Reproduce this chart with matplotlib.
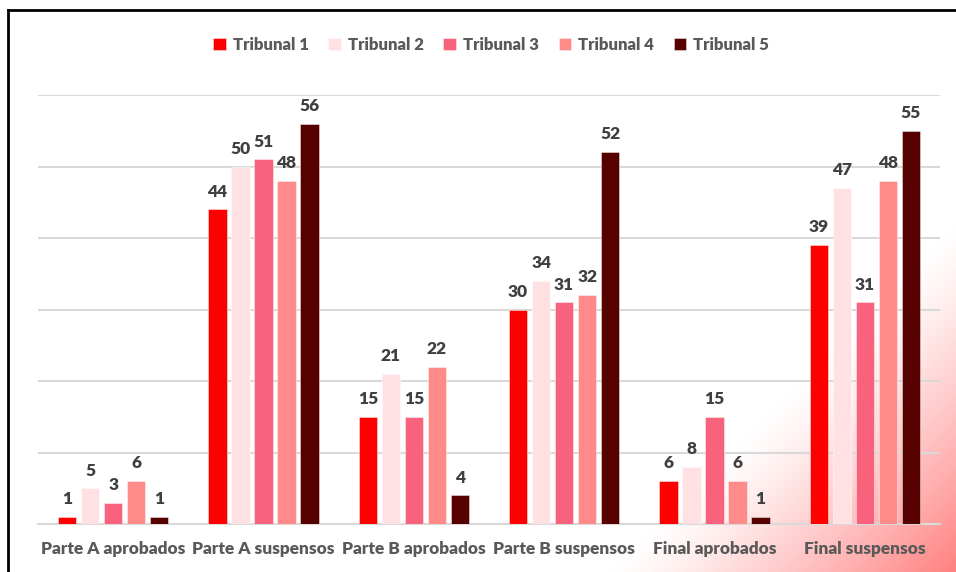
import numpy as np
import matplotlib
matplotlib.use("Agg")
import matplotlib.pyplot as plt
from matplotlib.lines import Line2D
from matplotlib.colors import to_rgb

categories = ["Parte A aprobados", "Parte A suspensos", "Parte B aprobados",
              "Parte B suspensos", "Final aprobados", "Final suspensos"]
series_names = ["Tribunal 1", "Tribunal 2", "Tribunal 3", "Tribunal 4", "Tribunal 5"]
tribunal1 = [1, 44, 15, 30, 6, 39]
tribunal2 = [5, 50, 21, 34, 8, 47]
tribunal3 = [3, 51, 15, 31, 15, 31]
tribunal4 = [6, 48, 22, 32, 6, 48]
tribunal5 = [1, 56, 4, 52, 1, 55]
series = [tribunal1, tribunal2, tribunal3, tribunal4, tribunal5]
colors = ["#FF0000", "#FFE1E4", "#F9627D", "#FF8A8A", "#560000"]

plt.rcParams['font.family'] = ['Lato', 'DejaVu Sans']

W, H = 956, 572
fig = plt.figure(figsize=(W/100, H/100), dpi=100)

# background gradient (bottom-right corner)
bg = fig.add_axes([0, 0, 1, 1], zorder=-10)
xs = np.arange(W)
ys = np.arange(H)
X, Y = np.meshgrid(xs, ys)
Yb = H - Y
s = X - Yb
a = np.clip((s - 610) / (W - 610), 0, 1) ** 1.2
corner = np.array(to_rgb("#FF8080"))
img = np.ones((H, W, 3)) * (1 - a[..., None]) + corner * a[..., None]
bg.imshow(img, extent=[0, W, 0, H], origin="upper", aspect="auto")
bg.set_axis_off()

ax = fig.add_axes([38/W, (H-524)/H, (940-38)/W, (524-95)/H])
ax.patch.set_alpha(0)

x = np.arange(len(categories))
bw = 0.12
pitch = 0.153
for i, (vals, c, name) in enumerate(zip(series, colors, series_names)):
    pos = x + (i - 2) * pitch
    ax.bar(pos, vals, width=bw, color=c, label=name, zorder=3,
           edgecolor=(1, 1, 1, 0.5), linewidth=0.6)
    for p, v in zip(pos, vals):
        ax.annotate(str(v), (p, v), xytext=(0, 7), textcoords="offset points",
                    ha="center", va="bottom", fontsize=12.5, fontweight="heavy",
                    color="#404040", zorder=4)

ax.set_xlim(-0.5, 5.5)
ax.set_ylim(0, 60)
ax.set_yticks(np.arange(0, 61, 10))
ax.yaxis.grid(True, color="#D9D9D9", linewidth=1.5, zorder=0)
ax.tick_params(axis="y", left=False, labelleft=False)
ax.tick_params(axis="x", bottom=False, pad=9)
ax.set_xticks(x)
ax.set_xticklabels(categories, fontsize=12.4, fontweight="heavy", color="#595959")
for sp in ["top", "right", "left"]:
    ax.spines[sp].set_visible(False)
ax.spines["bottom"].set_color("#D9D9D9")
ax.spines["bottom"].set_linewidth(1.5)

leg = fig.legend(loc="center", bbox_to_anchor=(491/W, 1 - 45/H), ncol=5, frameon=False,
                 handlelength=0.75, handleheight=0.75, handletextpad=0.4,
                 columnspacing=1.2, prop={"weight": "heavy", "size": 12})
for t in leg.get_texts():
    t.set_color("#595959")

# frame lines (top and left)
fig.add_artist(Line2D([8/W, 1], [1 - 10/H, 1 - 10/H], color="black", linewidth=2,
                      transform=fig.transFigure))
fig.add_artist(Line2D([8/W, 8/W], [0, 1 - 10/H], color="black", linewidth=2,
                      transform=fig.transFigure))

fig.savefig("out.png", dpi=100)
